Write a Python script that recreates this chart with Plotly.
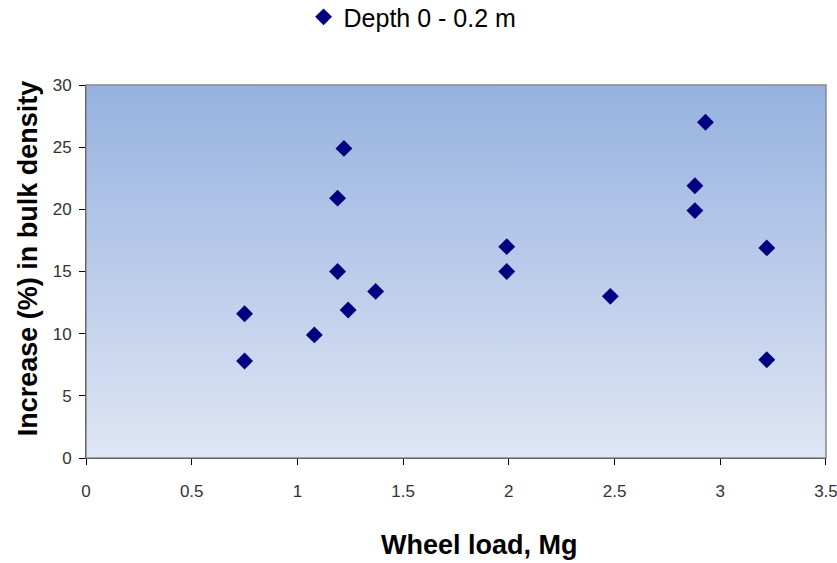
import plotly.graph_objects as go

wheel_load = [0.75, 0.75, 1.08, 1.19, 1.19, 1.22, 1.24, 1.37, 1.99, 1.99, 2.48, 2.88, 2.88, 2.93, 3.22, 3.22]
increase = [11.6, 7.8, 9.9, 15.0, 20.9, 24.9, 11.9, 13.4, 17.0, 15.0, 13.0, 21.9, 19.9, 27.0, 16.9, 7.9]
series_name = "Depth 0 - 0.2 m"
x_ticks = [0, 0.5, 1, 1.5, 2, 2.5, 3, 3.5]
y_ticks = [0, 5, 10, 15, 20, 25, 30]

svg = ("data:image/svg+xml;utf8,<svg xmlns='http://www.w3.org/2000/svg' width='100' height='100' preserveAspectRatio='none'>"
       "<defs><linearGradient id='g' x1='0' y1='0' x2='0' y2='1'>"
       "<stop offset='0' stop-color='%2396b2e0'/><stop offset='1' stop-color='%23dfe6f4'/>"
       "</linearGradient></defs><rect width='100' height='100' fill='url(%23g)'/></svg>")

tickfont = dict(size=17, family="Liberation Sans, Arial", color="#333")

fig = go.Figure()
fig.add_trace(go.Scatter(
    x=wheel_load, y=increase, mode="markers", name=series_name,
    marker=dict(symbol="diamond", size=13, color="#000080", line=dict(width=0)),
))

fig.update_layout(
    width=837, height=563,
    margin=dict(l=86, r=11, t=85, b=105, autoexpand=False),
    paper_bgcolor="white", plot_bgcolor="rgba(0,0,0,0)",
    font=dict(family="Liberation Sans, Arial", color="#000"),
    showlegend=True,
    legend=dict(orientation="h", x=0.294, xanchor="left", y=1.182, yanchor="middle",
                font=dict(size=25, family="Liberation Sans, Arial"),
                itemwidth=30, bgcolor="rgba(0,0,0,0)"),
    images=[dict(source=svg, xref="paper", yref="paper", x=0, y=1, sizex=1, sizey=1,
                 sizing="stretch", layer="below", xanchor="left", yanchor="top")],
    xaxis=dict(range=[0, 3.5001], tickvals=x_ticks, ticktext=[str(v) for v in x_ticks],
               showgrid=False, zeroline=False, showline=True, linecolor="#000", linewidth=1,
               ticks="outside", ticklen=6, tickcolor="#000", ticklabelstandoff=12,
               ticklabeloverflow="allow", tickfont=tickfont),
    yaxis=dict(range=[0, 30], tickvals=y_ticks,
               showgrid=False, zeroline=False, showline=True, linecolor="#000", linewidth=1,
               ticks="outside", ticklen=6, tickcolor="#000", ticklabelstandoff=4,
               tickfont=tickfont),
    shapes=[dict(type="rect", xref="paper", yref="paper", x0=0, y0=0, x1=1, y1=1,
                 line=dict(color="#888", width=1.5), layer="above")],
    annotations=[
        dict(text="<b>Wheel load, Mg</b>", xref="paper", yref="paper", x=0.532, y=-0.233,
             xanchor="center", yanchor="middle", showarrow=False,
             font=dict(size=27, family="Liberation Sans, Arial", color="#000")),
        dict(text="<b>Increase (%) in bulk density</b>", xref="paper", yref="paper", x=-0.078, y=0.536,
             xanchor="center", yanchor="middle", showarrow=False, textangle=-90,
             font=dict(size=27, family="Liberation Sans, Arial", color="#000")),
    ],
)

fig.write_html("out.html")
